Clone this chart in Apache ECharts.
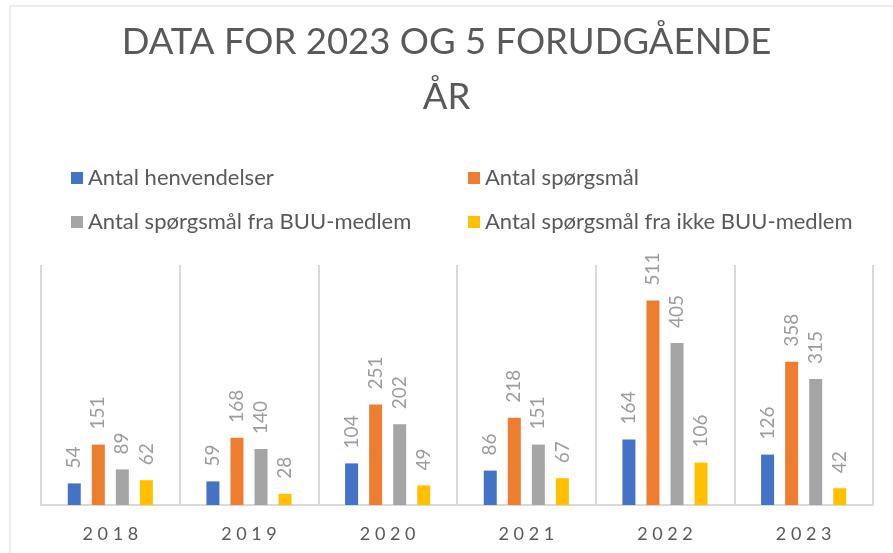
<!DOCTYPE html>
<html>
<head>
<meta charset="utf-8">
<script src="https://cdn.jsdelivr.net/npm/echarts@6/dist/echarts.min.js"></script>
<style>
  html, body { margin: 0; padding: 0; background: #fff; }
  #main { width: 893px; height: 553px; }
</style>
</head>
<body>
<div id="main"></div>
<script type="text/javascript">
var years = ['2018', '2019', '2020', '2021', '2022', '2023'];
var henvendelser = [54, 59, 104, 86, 164, 126];
var spoergsmaal = [151, 168, 251, 218, 511, 358];
var fraBUU = [89, 140, 202, 151, 405, 315];
var ikkeBUU = [62, 28, 49, 67, 106, 42];

var names = ['Antal henvendelser', 'Antal spørgsmål', 'Antal spørgsmål fra BUU-medlem', 'Antal spørgsmål fra ikke BUU-medlem'];
var colors = ['#4472C4', '#ED7D31', '#A5A5A5', '#FFC000'];
var font = 'Lato';

var myChart = echarts.init(document.getElementById('main'));

function barSeries(name, data, color) {
    return {
        name: name,
        type: 'bar',
        data: data,
        barWidth: 13,
        barGap: '85%',
        itemStyle: { color: color },
        label: {
            show: true,
            position: 'top',
            rotate: 90,
            align: 'left',
            verticalAlign: 'middle',
            distance: 15,
            color: '#9c9c9c',
            fontFamily: font,
            fontSize: 19
        }
    };
}

var legendText = { color: '#595959', fontFamily: font, fontSize: 22 };

myChart.setOption({
    animation: false,
    title: {
        text: 'DATA FOR 2023 OG 5 FORUDGÅENDE\nÅR',
        left: 'center',
        top: 10,
        textStyle: {
            color: '#595959',
            fontFamily: font,
            fontWeight: 'normal',
            fontSize: 36.5,
            lineHeight: 55
        }
    },
    graphic: [{
        type: 'rect',
        shape: { x: 10, y: 6, width: 900, height: 600 },
        style: { fill: null, stroke: '#d9d9d9', lineWidth: 1 },
        silent: true
    }],
    legend: [{
        orient: 'vertical',
        left: 66,
        top: 162,
        itemWidth: 12,
        itemHeight: 12,
        itemGap: 22,
        icon: 'rect',
        data: [names[0], names[2]],
        textStyle: legendText
    }, {
        orient: 'vertical',
        left: 463,
        top: 162,
        itemWidth: 12,
        itemHeight: 12,
        itemGap: 22,
        icon: 'rect',
        data: [names[1], names[3]],
        textStyle: legendText
    }],
    grid: { left: 41, right: 20, top: 265, bottom: 48 },
    xAxis: {
        type: 'category',
        data: years,
        axisLine: { lineStyle: { color: '#d9d9d9', width: 2 } },
        axisTick: { show: false },
        splitLine: { show: true, lineStyle: { color: '#d9d9d9', width: 2 } },
        axisLabel: {
            color: '#595959',
            fontFamily: font,
            fontSize: 18,
            margin: 20,
            formatter: function (v) { return v.split('').join(' '); }
        }
    },
    yAxis: {
        type: 'value',
        min: 0,
        max: 600,
        show: false
    },
    series: [
        barSeries(names[0], henvendelser, colors[0]),
        barSeries(names[1], spoergsmaal, colors[1]),
        barSeries(names[2], fraBUU, colors[2]),
        barSeries(names[3], ikkeBUU, colors[3])
    ]
});
</script>
</body>
</html>
